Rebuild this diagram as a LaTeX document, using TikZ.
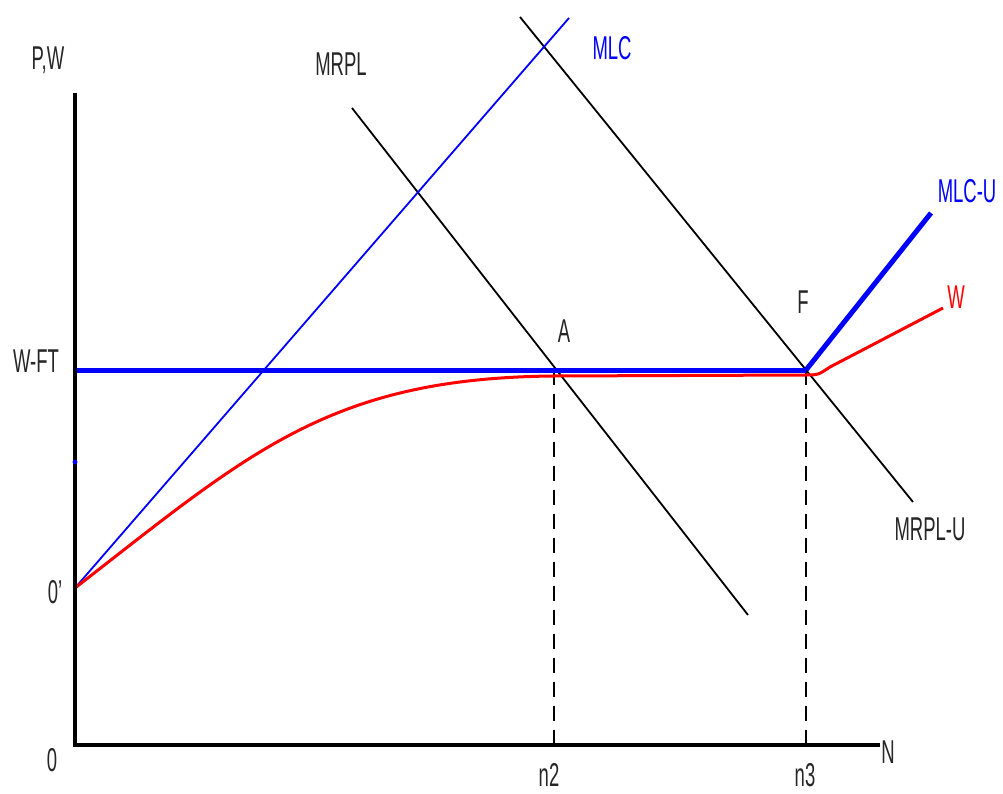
\documentclass[tikz,border=0pt]{standalone}
\usepackage{fontspec}
\setmainfont{Liberation Sans}
\newcommand\cnd[1]{\scalebox{0.56}[1]{#1}}
\tikzset{
  lbl/.style={inner sep=0pt, text=black!85, font=\fontsize{33}{35}\selectfont},
  bluelbl/.style={lbl, text=blue},
  redlbl/.style={lbl, text=red},
  axisline/.style={line width=4.5pt, black, line join=miter},
  demand/.style={line width=1.8pt, black},
  mlcthin/.style={line width=1.8pt, blue},
  mlcthick/.style={line width=5pt, blue},
  wage/.style={line width=3pt, red},
  guide/.style={line width=2.8pt, black, dash pattern=on 15pt off 9pt}
}
\begin{document}
\begin{tikzpicture}[x=1pt,y=-1pt]
\useasboundingbox (0,0) rectangle (1003,794);
% key points
\coordinate (O) at (75,745);
\coordinate (Otop) at (75,93);
\coordinate (Nend) at (880,745);
\coordinate (Op) at (75,588);
\coordinate (A) at (554,370);
\coordinate (F) at (806,370);
\coordinate (WFT) at (75,370);
\coordinate (n2b) at (554,745);
\coordinate (n3b) at (806,745);
\coordinate (mlcEnd) at (569,18);
\coordinate (mrplS) at (352,108);
\coordinate (mrplE) at (748,615);
\coordinate (mrpluS) at (520,17);
\coordinate (mrpluE) at (913,502);
\coordinate (mlcuE) at (931,213);
\coordinate (wE) at (943,308);
\coordinate (tick) at (75,462);
% dashed guides
\draw[guide] (A) -- (n2b);
\draw[guide] (F) -- (n3b);
% MRPL lines
\draw[demand] (mrplS) -- (mrplE);
\draw[demand] (mrpluS) -- (mrpluE);
% MLC
\draw[mlcthin] (Op) -- (mlcEnd);
% W curve
\draw[wage] (Op) .. controls (250,452) and (330,378) .. (554,376)
  -- (806,375) .. controls (818,375) .. (830,367) -- (wE);
% W-FT
\draw[mlcthick] (WFT) -- (F);
\draw[mlcthick] (F) -- (mlcuE);
% axes
\draw[axisline] (Otop) -- (O) -- (Nend);
\fill[blue] (tick) circle (2.5pt);
% labels
\node[lbl] (pw) at (48,60) {\cnd{P,W}};
\node[lbl] (wft) at (36,361) {\cnd{W-FT}};
\node[lbl] (opl) at (55,592) {\cnd{0'}};
\node[lbl] (ol) at (52,760) {\cnd{0}};
\node[lbl] (n2) at (549,775) {\cnd{n2}};
\node[lbl] (n3) at (805,775) {\cnd{n3}};
\node[lbl] (N) at (888,752) {\cnd{N}};
\node[lbl] (mrpl) at (341,64) {\cnd{MRPL}};
\node[bluelbl] (mlc) at (612,48) {\cnd{MLC}};
\node[bluelbl] (mlcu) at (967,191) {\cnd{MLC-U}};
\node[redlbl] (w) at (956,297) {\cnd{W}};
\node[lbl] (al) at (564,331) {\cnd{A}};
\node[lbl] (fl) at (803,302) {\cnd{F}};
\node[lbl] (mrplu) at (930,529) {\cnd{MRPL-U}};
\end{tikzpicture}
\end{document}
